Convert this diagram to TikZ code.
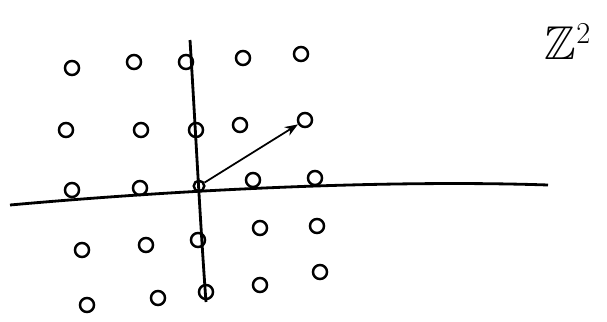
\documentclass[tikz,border=0pt]{standalone}
\usepackage{amsmath, amssymb}
\usetikzlibrary{arrows.meta}

\begin{document}
\begin{tikzpicture}[
    x=0.02cm, y=-0.02cm,
    >=Stealth,
    pt/.style={circle, draw=black, line width=1.4pt, inner sep=0pt, minimum size=8pt},
    axis/.style={draw=black, line width=1.6pt},
    vec/.style={draw=black, line width=1pt, ->}
]
    \useasboundingbox (0,0) rectangle (607,321);

    % Lattice points
    \foreach \px/\py/\nm in {72/68/a1, 134/62/a2, 186/62/a3, 243/58/a4, 301/54/a5,
                             66/130/b1, 141/130/b2, 196/130/b3, 240/125/b4, 305/120/b5,
                             72/190/c1, 140/188/c2, 253/180/c4, 315/178/c5,
                             82/250/d1, 146/245/d2, 198/240/d3, 260/228/d4, 317/226/d5,
                             87/305/e1, 158/298/e2, 206/292/e3, 260/285/e4, 320/272/e5}
        \node [pt] (\nm) at (\px,\py) {};
    \node [pt, minimum size=6pt] (origin) at (199,186) {};

    % Axes
    \coordinate (xl) at (10,205);
    \coordinate (xr) at (548,185);
    \coordinate (yt) at (190,40);
    \coordinate (yb) at (206,302);
    \draw [axis] (xl) .. controls (200,188) and (400,180) .. (xr);
    \draw [axis] (yt) .. controls (195,120) and (200,220) .. (yb);

    % Vector
    \draw [vec] (origin) -- (b5);

    % Label
    \node (lbl) at (568,42) {\fontsize{27}{30}\selectfont $\mathbb{Z}^2$};

\end{tikzpicture}
\end{document}
